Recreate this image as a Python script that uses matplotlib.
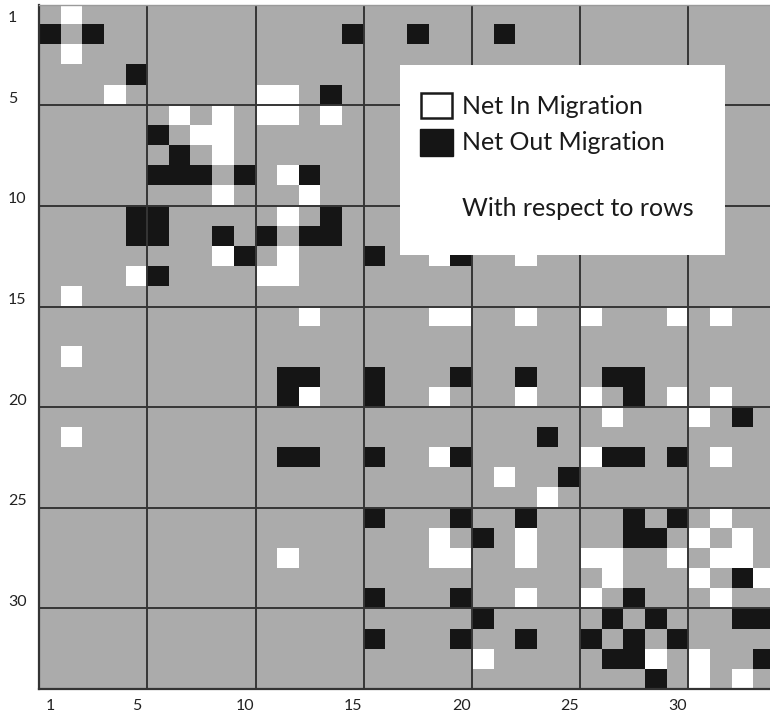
import numpy as np
import matplotlib

matplotlib.use("Agg")
import matplotlib.pyplot as plt
from matplotlib.colors import ListedColormap
from matplotlib.patches import Rectangle

plt.rcParams["font.family"] = ["Lato", "DejaVu Sans"]

n_units = 34
tick_vals = [1, 5, 10, 15, 20, 25, 30]

# net out migration cells (row, col), 1-based
out_rows = [2, 2, 2, 2, 2, 4, 5, 7, 8, 9, 9, 9, 9, 9, 11, 11, 11, 12, 12, 12, 12, 12, 12, 12,
            13, 13, 13, 14, 19, 19, 19, 19, 19, 19, 19, 20, 20, 20, 21, 22, 23, 23, 23, 23, 23,
            23, 23, 24, 26, 26, 26, 26, 26, 27, 27, 27, 29, 30, 30, 30, 31, 31, 31, 31, 31,
            32, 32, 32, 32, 32, 32, 33, 33, 33, 34]
out_cols = [1, 3, 15, 18, 22, 5, 14, 6, 7, 6, 7, 8, 10, 13, 5, 6, 14, 5, 6, 9, 11, 13, 14, 28,
            10, 16, 20, 6, 12, 13, 16, 20, 23, 27, 28, 12, 16, 28, 33, 24, 12, 13, 16, 20, 27,
            28, 30, 25, 16, 20, 23, 28, 30, 21, 28, 29, 33, 16, 20, 28, 21, 27, 29, 33, 34,
            16, 20, 23, 26, 28, 30, 27, 28, 34, 29]

# net in migration cells (row, col), 1-based
in_rows = [1, 3, 15, 18, 22, 5, 14, 6, 7, 6, 7, 8, 10, 13, 5, 6, 14, 5, 6, 9, 11, 13, 14, 28,
           10, 16, 20, 6, 12, 13, 16, 20, 23, 27, 28, 12, 16, 28, 33, 24, 12, 13, 16, 20, 27,
           28, 30, 25, 16, 20, 23, 28, 30, 21, 28, 29, 33, 16, 20, 28, 21, 27, 29, 33, 34,
           16, 20, 23, 26, 28, 30, 27, 28, 34, 29]
in_cols = [2, 2, 2, 2, 2, 4, 5, 7, 8, 9, 9, 9, 9, 9, 11, 11, 11, 12, 12, 12, 12, 12, 12, 12,
           13, 13, 13, 14, 19, 19, 19, 19, 19, 19, 19, 20, 20, 20, 21, 22, 23, 23, 23, 23, 23,
           23, 23, 24, 26, 26, 26, 26, 26, 27, 27, 27, 29, 30, 30, 30, 31, 31, 31, 31, 31,
           32, 32, 32, 32, 32, 32, 33, 33, 33, 34]

mat = np.zeros((n_units, n_units))
for r, c in zip(out_rows, out_cols):
    mat[r - 1, c - 1] = -1
for r, c in zip(in_rows, in_cols):
    mat[r - 1, c - 1] = 1

W, H = 770, 717
fig = plt.figure(figsize=(W / 100, H / 100), dpi=100)
x0, x1, y0, y1 = 39.3, 774.8, 4.7, 689
ax = fig.add_axes([x0 / W, 1 - y1 / H, (x1 - x0) / W, (y1 - y0) / H])

cmap = ListedColormap(["#151515", "#ababab", "#ffffff"])
ax.imshow(mat, cmap=cmap, vmin=-1, vmax=1, interpolation="nearest", aspect="auto",
          extent=(0.5, n_units + 0.5, n_units + 0.5, 0.5))

for k in range(5, n_units, 5):
    ax.axvline(k + 0.5, color="#353535", lw=1.4)
    ax.axhline(k + 0.5, color="#353535", lw=1.4)

ax.spines["right"].set_visible(False)
ax.spines["left"].set_color("#333333")
ax.spines["bottom"].set_color("#333333")
ax.spines["left"].set_linewidth(1.6)
ax.spines["bottom"].set_linewidth(1.6)
ax.spines["top"].set_color("#9a9a9a")
ax.spines["top"].set_linewidth(1.0)

ax.set_xticks(tick_vals)
ax.set_xticklabels([str(t) for t in tick_vals], fontsize=11.5, color="#222222")
ax.set_yticks([t + 0.1 for t in tick_vals])
ax.set_yticklabels([str(t) for t in tick_vals], fontsize=11.5, color="#222222")
ax.tick_params(axis="both", length=0)
ax.tick_params(axis="y", pad=22.5)
ax.tick_params(axis="x", pad=7)
for lab in ax.get_yticklabels():
    lab.set_horizontalalignment("left")

# legend panel
def px(x, y):
    return x / W, 1 - y / H

bx, by = px(400, 255)
fig.patches.append(Rectangle((bx, by), 325 / W, 190 / H, transform=fig.transFigure,
                             facecolor="white", edgecolor="none", zorder=5))
sx, sy = px(421, 118)
fig.patches.append(Rectangle((sx, sy), 31 / W, 25 / H, transform=fig.transFigure,
                             facecolor="white", edgecolor="#1a1a1a", lw=1.8, zorder=6))
sx, sy = px(420, 156)
fig.patches.append(Rectangle((sx, sy), 33 / W, 27 / H, transform=fig.transFigure,
                             facecolor="#151515", edgecolor="#151515", lw=1, zorder=6))

tx, ty = px(462, 107)
fig.text(tx, ty, "Net In Migration", fontsize=18, va="center", ha="left", color="#1a1a1a", zorder=7)
tx, ty = px(462, 142)
fig.text(tx, ty, "Net Out Migration", fontsize=18, va="center", ha="left", color="#1a1a1a", zorder=7)
tx, ty = px(462, 209)
fig.text(tx, ty, "With respect to rows", fontsize=18, va="center", ha="left", color="#1a1a1a", zorder=7)

fig.savefig("out.png", dpi=100)
